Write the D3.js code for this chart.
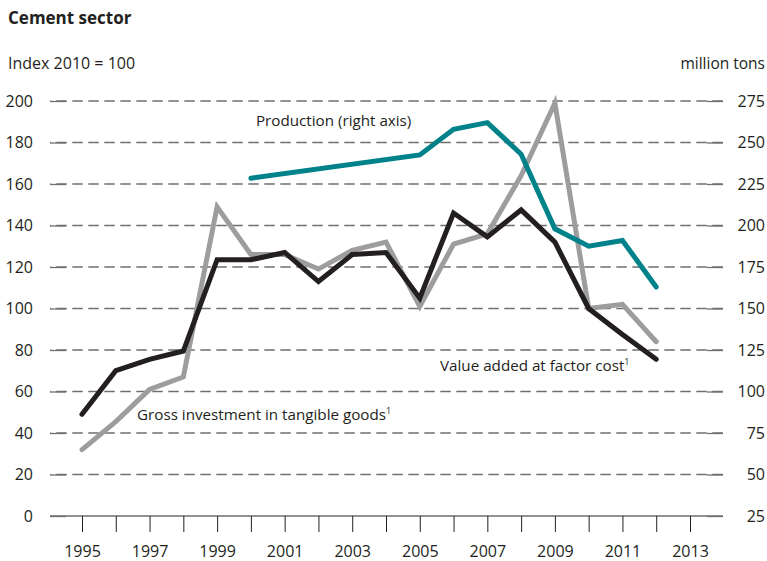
<!DOCTYPE html>
<html>
<head>
<meta charset="utf-8">
<script src="https://cdn.jsdelivr.net/npm/d3@7"></script>
<style>
  body { margin: 0; background: #fff; }
  svg text { font-family: "Open Sans", sans-serif; fill: #231f20; }
</style>
</head>
<body>
<svg id="chart" width="767" height="561"></svg>
<script>
// years on the x axis
const years = d3.range(1995, 2013);
// Value added at factor cost (index 2010 = 100)
const valueAdded = [49, 70, 75.5, 79.5, 123.5, 123.5, 127, 113, 126, 127, 105, 146, 134.5, 147.5, 132, 100, 87.5, 75.5];
// Gross investment in tangible goods (index 2010 = 100)
const investment = [32, 45.5, 61, 67, 149, 126, 126, 119, 128, 132, 101, 131, 136, 164, 199, 100, 102, 84];
// Production, million tons (right axis)
const prodYears = [2000, 2005, 2006, 2007, 2008, 2009, 2010, 2011, 2012];
const production = [228.5, 242.5, 258, 262, 243, 198, 187.5, 191, 163];

const leftTicks = d3.range(0, 201, 20);
const rightTicks = d3.range(25, 276, 25);
const xTicks = d3.range(1995, 2014);

let svg = d3.select("#chart");

let x = d3.scaleLinear().domain([1995, 2013]).range([82, 690]);
let yL = d3.scaleLinear().domain([0, 200]).range([516, 101]);
let yR = d3.scaleLinear().domain([25, 275]).range([516, 101]);

const left = 50, right = 723;

// Title and axis captions
svg.append("text")
    .attr("x", 8).attr("y", 24)
    .style("font-size", "17px").style("font-weight", "bold")
    .text("Cement sector");
svg.append("text")
    .attr("x", 8).attr("y", 69)
    .style("font-size", "16px")
    .text("Index 2010 = 100");
svg.append("text")
    .attr("x", 765).attr("y", 69)
    .attr("text-anchor", "end")
    .style("font-size", "15.5px")
    .text("million tons");

// Dashed gridlines
svg.append("g").selectAll("line")
    .data(leftTicks.filter(d => d > 0))
    .enter().append("line")
    .attr("x1", left).attr("x2", right)
    .attr("y1", d => yL(d)).attr("y2", d => yL(d))
    .attr("stroke", "#6f6f6f").attr("stroke-width", 1.3)
    .attr("stroke-dasharray", "10.5,5.5")
    .attr("stroke-dashoffset", 9.7);

// Left axis
let gL = svg.append("g").attr("transform", `translate(${left},0)`)
    .call(d3.axisLeft(yL).tickValues(leftTicks).tickSize(-16).tickPadding(17));
gL.select(".domain").remove();
gL.selectAll("line").attr("stroke", "#6f6f6f").attr("stroke-width", 1.3);
gL.selectAll("text").style("font-size", "16px").attr("fill", "#231f20");

// Right axis
let gR = svg.append("g").attr("transform", `translate(${right},0)`)
    .call(d3.axisRight(yR).tickValues(rightTicks).tickSize(-16));
gR.select(".domain").remove();
gR.selectAll("line").attr("stroke", "#6f6f6f").attr("stroke-width", 1.3);
gR.selectAll("text")
    .attr("x", 42).attr("text-anchor", "end")
    .style("font-size", "16px").attr("fill", "#231f20");

// Baseline and x axis
svg.append("line")
    .attr("x1", left).attr("x2", right)
    .attr("y1", yL(0)).attr("y2", yL(0))
    .attr("stroke", "#6f6f6f").attr("stroke-width", 1.3);
let gX = svg.append("g").attr("transform", `translate(0,${yL(0)})`)
    .call(d3.axisBottom(x).tickValues(xTicks).tickSize(16).tickPadding(14)
        .tickFormat(d => (d - 1995) % 2 === 0 ? d : ""));
gX.select(".domain").remove();
gX.selectAll("line").attr("stroke", "#231f20").attr("stroke-width", 1);
gX.selectAll("text").style("font-size", "16px").attr("fill", "#231f20");

// Series lines
function drawLine(xs, vs, scale, color) {
    let line = d3.line()
        .x(d => x(d[0]))
        .y(d => scale(d[1]));
    svg.append("path")
        .datum(xs.map((yr, i) => [yr, vs[i]]))
        .attr("d", line)
        .attr("fill", "none")
        .attr("stroke", color)
        .attr("stroke-width", 5)
        .attr("stroke-linejoin", "miter")
        .attr("stroke-linecap", "round");
}
drawLine(years, investment, yL, "#9d9d9f");
drawLine(years, valueAdded, yL, "#231f20");
drawLine(prodYears, production, yR, "#00828a");

// Series labels
function label(xp, yp, txt, sup) {
    let t = svg.append("text")
        .attr("x", xp).attr("y", yp)
        .style("font-size", "15.2px")
        .text(txt);
    if (sup) {
        t.append("tspan")
            .attr("dy", "-6")
            .style("font-size", "9px")
            .text(sup);
    }
}
label(x(2000.15), 126, "Production (right axis)");
label(x(2005.6), 371, "Value added at factor cost", "1");
label(x(1996.63), 420, "Gross investment in tangible goods", "1");
</script>
</body>
</html>
